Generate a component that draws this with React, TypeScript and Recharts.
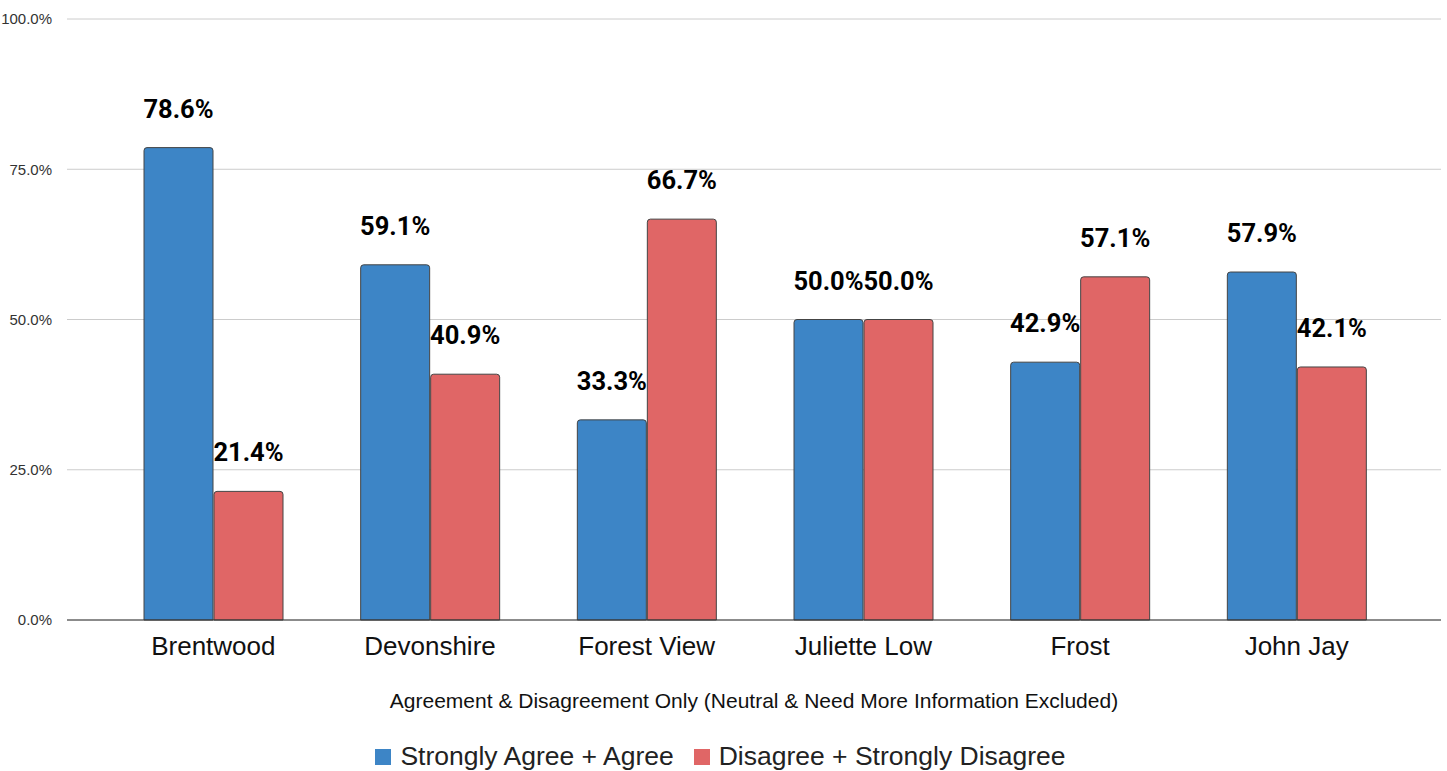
import { Bar, BarChart, CartesianGrid, LabelList, Legend, XAxis, YAxis } from "recharts";

const schools = ["Brentwood", "Devonshire", "Forest View", "Juliette Low", "Frost", "John Jay"];
const agree = [78.6, 59.1, 33.3, 50.0, 42.9, 57.9];
const disagree = [21.4, 40.9, 66.7, 50.0, 57.1, 42.1];
const yTicks = [0, 25, 50, 75, 100];
const seriesNames = ["Strongly Agree + Agree", "Disagree + Strongly Disagree"];
const seriesColors = ["#3d85c6", "#e06666"];

const data = schools.map((name, i) => ({
  name,
  agree: agree[i],
  disagree: disagree[i],
}));

const pct = (v: any) => `${Number(v).toFixed(1)}%`;

const font = "Arial, 'Liberation Sans', Helvetica, sans-serif";

const labelStyle = { fontSize: 25.5, fontWeight: "bold", fill: "#000", fontFamily: "Roboto, sans-serif" };

const LegendBox = () => (
  <div
    style={{
      display: "flex",
      justifyContent: "center",
      alignItems: "center",
      gap: 20,
      paddingTop: 16,
      fontFamily: font,
      fontSize: 26.5,
      color: "#222",
    }}
  >
    {seriesNames.map((n, i) => (
      <div key={n} style={{ display: "flex", alignItems: "center" }}>
        <span style={{ width: 16, height: 16, background: seriesColors[i], marginRight: 9, display: "inline-block" }} />
        <span>{n}</span>
      </div>
    ))}
  </div>
);

export default function App() {
  return (
    <div style={{ position: "absolute", left: 0, top: 0, width: 1447, height: 771, background: "#fff" }}>
      <BarChart
        width={1447}
        height={771}
        data={data}
        margin={{ top: 19, right: 6, left: 0, bottom: 0 }}
        barGap={1}
        barSize={69}
        style={{ fontFamily: font }}
      >
        <CartesianGrid vertical={false} stroke="#cccccc" />
        <XAxis
          dataKey="name"
          padding={{ left: 38, right: 36 }}
          height={105}
          tickLine={false}
          axisLine={{ stroke: "#333" }}
          tick={{ fontSize: 26, fill: "#111" }}
          tickMargin={11}
          label={{
            value: "Agreement & Disagreement Only (Neutral & Need More Information Excluded)",
            position: "insideBottom",
            offset: 17,
            fontSize: 21,
            fill: "#111",
          }}
        />
        <YAxis
          domain={[0, 100]}
          ticks={yTicks}
          tickFormatter={pct}
          width={67}
          tickLine={false}
          axisLine={false}
          tickMargin={9}
          tick={{ fontSize: 15, fill: "#333" }}
        />
        <Legend verticalAlign="bottom" height={46} content={<LegendBox />} />
        <Bar
          dataKey="agree"
          name={seriesNames[0]}
          fill={seriesColors[0]}
          stroke="#444"
          strokeWidth={1}
          radius={[3, 3, 0, 0]}
          isAnimationActive={false}
        >
          <LabelList dataKey="agree" position="top" offset={30} formatter={pct} style={labelStyle} />
        </Bar>
        <Bar
          dataKey="disagree"
          name={seriesNames[1]}
          fill={seriesColors[1]}
          stroke="#444"
          strokeWidth={1}
          radius={[3, 3, 0, 0]}
          isAnimationActive={false}
        >
          <LabelList dataKey="disagree" position="top" offset={30} formatter={pct} style={labelStyle} />
        </Bar>
      </BarChart>
    </div>
  );
}
